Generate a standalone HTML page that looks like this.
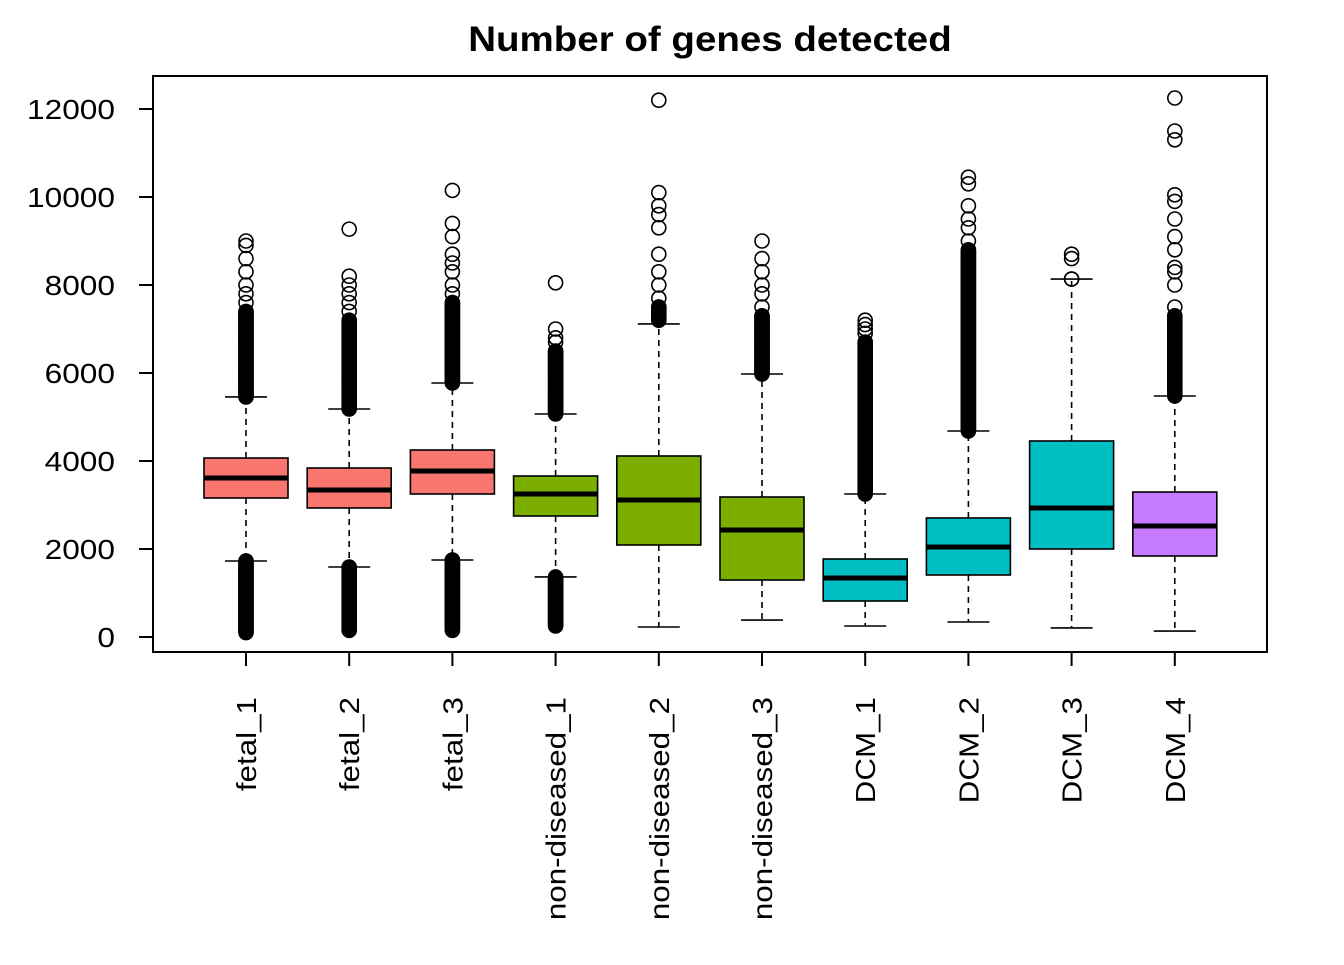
<!DOCTYPE html>
<html><head><meta charset="utf-8"><style>
body{margin:0;background:#fff}
svg text{font-family:"Liberation Sans",Arial,sans-serif}
</style></head><body>
<svg id="chart" width="1344" height="960" xmlns="http://www.w3.org/2000/svg">
<rect width="1344" height="960" fill="#fff"/>
<text id="title" x="710" y="51" font-size="35" font-weight="bold" text-anchor="middle">Number of genes detected</text>
<rect x="153" y="76" width="1114" height="576" fill="none" stroke="#000" stroke-width="2"/>
<g id="marks"></g>
</svg>
<script>
const categories=["fetal_1","fetal_2","fetal_3","non-diseased_1","non-diseased_2","non-diseased_3","DCM_1","DCM_2","DCM_3","DCM_4"];
const colors=["#F8766D","#F8766D","#F8766D","#7CAE00","#7CAE00","#7CAE00","#00BFC4","#00BFC4","#00BFC4","#C77CFF"];
const q1=[3159,2932,3250,2750,2091,1295,818,1409,2000,1841];
const med=[3614,3341,3773,3250,3114,2432,1341,2045,2932,2523];
const q3=[4068,3841,4250,3659,4114,3182,1773,2705,4455,3295];
const upperWhisker=[5455,5182,5773,5068,7114,5977,3250,4682,8136,5477];
const lowerWhisker=[1727,1591,1750,1364,227,386,250,341,205,136];
const denseHigh=[[5455,7400],[5182,7200],[5773,7600],[5068,6500],[7200,7500],[5977,7300],[3250,6700],[4682,8800],[8136,8136],[5477,7300]];
const denseLow=[[100,1727],[150,1591],[150,1750],[250,1364],null,null,null,null,null,null];
const sparseOutliers=[[7600,7800,8000,8300,8600,8900,9000],[7400,7600,7800,8000,8200,9270],[7800,8000,8300,8500,8700,9100,9400,10150],[6700,6800,7000,8050],[7700,8000,8300,8700,9300,9600,9800,10100,12200],[7500,7800,8000,8300,8600,9000],[6900,7000,7100,7200],[9000,9300,9500,9800,10300,10450],[8600,8700],[7500,8000,8300,8400,8800,9100,9500,9900,10050,11300,11500,12250]];
const yTicks=[0,2000,4000,6000,8000,10000,12000];
const NS="http://www.w3.org/2000/svg";
const svg=document.getElementById('marks');
const yS=v=>637-v*0.044;
const xS=i=>246+i*103.2;
function el(t,a){const e=document.createElementNS(NS,t);for(const k in a)e.setAttribute(k,a[k]);svg.appendChild(e);return e;}
function widen(t,f){try{const w=t.getComputedTextLength();t.setAttribute('textLength',w*f);t.setAttribute('lengthAdjust','spacingAndGlyphs');}catch(e){}}
widen(document.getElementById('title'),1.1);
yTicks.forEach(v=>{
 const l=el('line',{x1:139,x2:153,y1:yS(v),y2:yS(v),stroke:'#000','stroke-width':2});
 
 
 const t=el('text',{x:115,y:yS(v)+10,'font-size':28,'text-anchor':'end'});t.textContent=v;
 
 
 widen(t,1.13);
});
function circ(x,v){const c=el('circle',{cx:x,cy:yS(v),r:7,fill:'none',stroke:'#000','stroke-width':1.6});
 
 }
categories.forEach((c,i)=>{
 const x=xS(i),hw=42;
 const tk=el('line',{x1:x,x2:x,y1:652,y2:666,stroke:'#000','stroke-width':2});
 
 
 const t=el('text',{x:0,y:0,'font-size':28,'text-anchor':'end',transform:`translate(${x+10},697) rotate(-90)`});t.textContent=c;
 
 
 widen(t,1.12);
 const w1=el('line',{x1:x,x2:x,y1:yS(q3[i]),y2:yS(upperWhisker[i]),stroke:'#000','stroke-width':1.6,'stroke-dasharray':'6,5'});
 
 
 const w2=el('line',{x1:x,x2:x,y1:yS(q1[i]),y2:yS(lowerWhisker[i]),stroke:'#000','stroke-width':1.6,'stroke-dasharray':'6,5'});
 
 
 [upperWhisker[i],lowerWhisker[i]].forEach(v=>{const s=el('line',{x1:x-21,x2:x+21,y1:yS(v),y2:yS(v),stroke:'#000','stroke-width':1.6});
  
  });
 const b=el('rect',{x:x-hw,y:yS(q3[i]),width:2*hw,height:yS(q1[i])-yS(q3[i]),fill:colors[i],stroke:'#000','stroke-width':1.6});
 
 
 const m=el('line',{x1:x-hw,x2:x+hw,y1:yS(med[i]),y2:yS(med[i]),stroke:'#000','stroke-width':5});
 
 
 [denseHigh[i],denseLow[i]].forEach(r=>{if(!r)return;for(let v=r[0];v<=r[1];v+=25)circ(x,v);circ(x,r[1]);});
 sparseOutliers[i].forEach(v=>circ(x,v));
});
</script>
</body></html>
